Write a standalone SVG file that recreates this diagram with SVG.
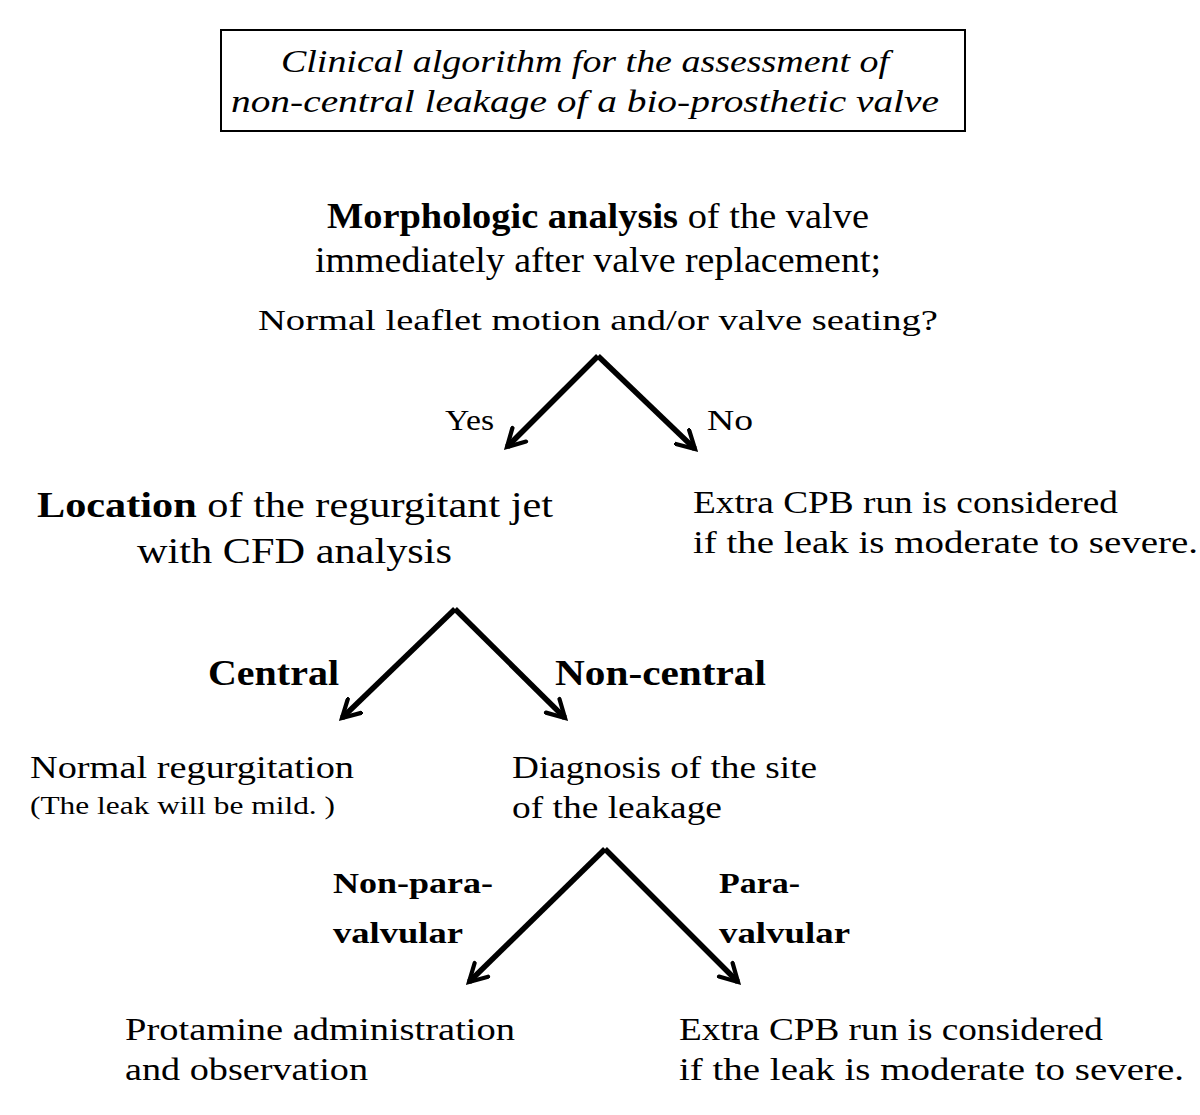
<svg xmlns="http://www.w3.org/2000/svg" width="1200" height="1115" viewBox="0 0 1200 1115">
<style>
text{font-family:"Liberation Serif","DejaVu Serif",serif;fill:#000}
.t{font-style:italic;font-size:32px;text-anchor:middle}
.b{font-weight:bold}
.l{font-size:35px}
.m{font-size:31px}
.s{font-size:29px}
.xs{font-size:25px}
.c{stroke:#000;stroke-width:5.5;fill:none;stroke-linejoin:miter}
</style>
<defs>
<marker id="ah" viewBox="0 0 12 12" refX="10" refY="6" markerWidth="4.2" markerHeight="4.2" markerUnits="strokeWidth" orient="auto">
<path d="M1,1 L10,6 L1,11" fill="none" stroke="#000" stroke-width="2.2" stroke-linecap="round"/>
</marker>
</defs>
<g id="title">
<rect x="221" y="30" width="744" height="101" fill="#fff" stroke="#000" stroke-width="2"/>
<text class="t" x="585" y="72" textLength="608" lengthAdjust="spacingAndGlyphs">Clinical algorithm for the assessment of</text>
<text class="t" x="585" y="112" textLength="708" lengthAdjust="spacingAndGlyphs">non-central leakage of  a bio-prosthetic valve</text>
</g>
<g id="morph">
<text class="l" x="598" y="228" text-anchor="middle" textLength="542" lengthAdjust="spacingAndGlyphs"><tspan class="b">Morphologic analysis</tspan> of the valve</text>
<text class="l" x="598" y="272" text-anchor="middle" textLength="566" lengthAdjust="spacingAndGlyphs">immediately after valve replacement;</text>
<text class="s" x="258" y="330" textLength="680" lengthAdjust="spacingAndGlyphs">Normal leaflet motion and/or valve seating?</text>
</g>
<g id="location">
<text class="l" x="37" y="517" textLength="516" lengthAdjust="spacingAndGlyphs"><tspan class="b">Location</tspan> of the regurgitant jet</text>
<text class="l" x="137" y="563" textLength="315" lengthAdjust="spacingAndGlyphs">with CFD analysis</text>
</g>
<g id="extra1">
<text class="m" x="693" y="513" textLength="425" lengthAdjust="spacingAndGlyphs">Extra CPB run is considered</text>
<text class="m" x="693" y="553" textLength="505" lengthAdjust="spacingAndGlyphs">if the leak is moderate to severe.</text>
</g>
<g id="normal">
<text class="m" x="30" y="778" textLength="324" lengthAdjust="spacingAndGlyphs">Normal regurgitation</text>
<text class="xs" x="30" y="814" textLength="305" lengthAdjust="spacingAndGlyphs">(The leak will be mild. )</text>
</g>
<g id="diagnosis">
<text class="m" x="512" y="778" textLength="305" lengthAdjust="spacingAndGlyphs">Diagnosis of the site</text>
<text class="m" x="512" y="818" textLength="210" lengthAdjust="spacingAndGlyphs">of the leakage</text>
</g>
<g id="protamine">
<text class="m" x="125" y="1040" textLength="390" lengthAdjust="spacingAndGlyphs">Protamine administration</text>
<text class="m" x="125" y="1080" textLength="243" lengthAdjust="spacingAndGlyphs">and observation</text>
</g>
<g id="extra2">
<text class="m" x="679" y="1040" textLength="424" lengthAdjust="spacingAndGlyphs">Extra CPB run is considered</text>
<text class="m" x="679" y="1080" textLength="505" lengthAdjust="spacingAndGlyphs">if the leak is moderate to severe.</text>
</g>
<g id="connectors">
<path class="c" d="M598,356 L507,447" marker-end="url(#ah)"/>
<path class="c" d="M598,356 L695,449" marker-end="url(#ah)"/>
<path class="c" d="M455,609 L342,718" marker-end="url(#ah)"/>
<path class="c" d="M455,609 L565,718" marker-end="url(#ah)"/>
<path class="c" d="M605,849 L469,982" marker-end="url(#ah)"/>
<path class="c" d="M605,849 L738,982" marker-end="url(#ah)"/>
<text class="s" x="445" y="430" textLength="49" lengthAdjust="spacingAndGlyphs">Yes</text>
<text class="s" x="707" y="430" textLength="46" lengthAdjust="spacingAndGlyphs">No</text>
<text class="l b" x="208" y="685" textLength="131" lengthAdjust="spacingAndGlyphs">Central</text>
<text class="l b" x="555" y="685" textLength="211" lengthAdjust="spacingAndGlyphs">Non-central</text>
<text class="s b" x="333" y="893" textLength="160" lengthAdjust="spacingAndGlyphs">Non-para-</text>
<text class="s b" x="333" y="943" textLength="130" lengthAdjust="spacingAndGlyphs">valvular</text>
<text class="s b" x="719" y="893" textLength="81" lengthAdjust="spacingAndGlyphs">Para-</text>
<text class="s b" x="719" y="943" textLength="131" lengthAdjust="spacingAndGlyphs">valvular</text>
</g>
</svg>
